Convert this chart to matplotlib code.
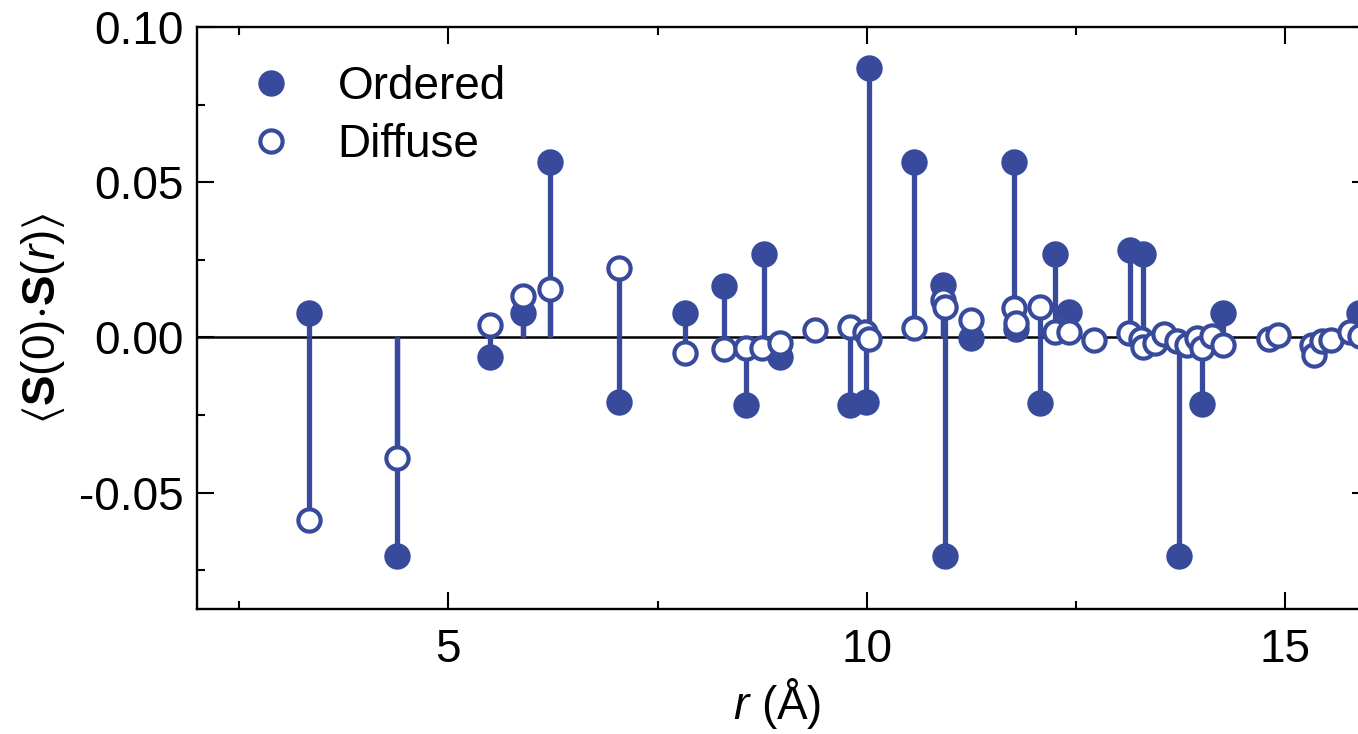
import matplotlib
matplotlib.use("Agg")
import matplotlib.pyplot as plt
from matplotlib.lines import Line2D
from matplotlib.ticker import MultipleLocator, FuncFormatter


# ══════════════════════════════════════════════════════════════
# Data: spin correlation <S(0).S(r)> against distance r (Å)
# ══════════════════════════════════════════════════════════════

# ordered (filled markers)
r_ordered = [3.33, 4.39, 5.50, 5.89, 6.21, 7.04, 7.83, 8.29, 8.56, 8.77,
             8.96, 9.80, 9.99, 10.02, 10.56, 10.91, 10.93, 11.24, 11.76, 11.78,
             12.07, 12.25, 12.41, 13.14, 13.30, 13.73, 14.00, 14.25, 15.88]
s_ordered = [0.0080, -0.0704, -0.0064, 0.0080, 0.0566, -0.0209, 0.0080, 0.0167, -0.0217, 0.0268,
             -0.0064, -0.0217, -0.0209, 0.0869, 0.0566, 0.0169, -0.0704, -0.0003, 0.0566, 0.0028,
             -0.0210, 0.0268, 0.0083, 0.0282, 0.0268, -0.0704, -0.0216, 0.0080, 0.0080]

# diffuse (open markers)
r_diffuse = [3.33, 4.39, 5.50, 5.89, 6.21, 7.04, 7.83, 8.29, 8.56, 8.75,
             8.96, 9.38, 9.80, 9.98, 10.02, 10.56, 10.91, 10.93, 11.24, 11.76,
             11.78, 12.07, 12.25, 12.41, 12.71, 13.13, 13.27, 13.30, 13.44, 13.55,
             13.70, 13.83, 13.95, 14.00, 14.12, 14.25, 14.81, 14.91, 15.32, 15.34,
             15.44, 15.54, 15.77, 15.89]
s_diffuse = [-0.0588, -0.0390, 0.0040, 0.0134, 0.0155, 0.0223, -0.0051, -0.0038, -0.0035, -0.0035,
             -0.0019, 0.0024, 0.0033, 0.0019, -0.0005, 0.0030, 0.0121, 0.0099, 0.0056, 0.0094,
             0.0046, 0.0099, 0.0019, 0.0019, -0.0007, 0.0015, -0.0005, -0.0030, -0.0019, 0.0010,
             -0.0013, -0.0024, -0.0003, -0.0035, 0.0003, -0.0025, -0.0006, 0.0008, -0.0024, -0.0056,
             -0.0012, -0.0007, 0.0019, 0.0006]

labels = ["Ordered", "Diffuse"]

# ══════════════════════════════════════════════════════════════
# Style
# ══════════════════════════════════════════════════════════════

BLUE      = "#374a9b"
FONT      = "Liberation Sans"
FONT_SIZE = 33
MS        = 16     # marker size (pt)
MEW       = 3.0    # marker edge width (pt)
STEM_LW   = 3.8

plt.rcParams["font.family"] = [FONT, "DejaVu Sans"]
plt.rcParams["mathtext.fontset"] = "custom"
plt.rcParams["mathtext.rm"] = FONT
plt.rcParams["mathtext.it"] = FONT + ":italic"
plt.rcParams["mathtext.bf"] = FONT + ":bold"
plt.rcParams["mathtext.fallback"] = "stixsans"
plt.rcParams["axes.unicode_minus"] = False

fig = plt.figure(figsize=(13.58, 7.34), dpi=100)
# right spine sits just past the edge of the picture, as in the reference
ax = fig.add_axes([0.1453, 0.1703, 0.8628, 0.7929])

# zero line
ax.axhline(0, color="black", lw=1.8, zorder=1)

# stems from zero to each value
ax.vlines(r_ordered, 0, s_ordered, color=BLUE, lw=STEM_LW, zorder=2)
ax.vlines(r_diffuse, 0, s_diffuse, color=BLUE, lw=STEM_LW, zorder=2)

# markers
ax.plot(r_ordered, s_ordered, "o", ls="none", ms=MS, mfc=BLUE, mec=BLUE,
        mew=MEW, zorder=3, clip_on=False)
ax.plot(r_diffuse, s_diffuse, "o", ls="none", ms=MS, mfc="white", mec=BLUE,
        mew=MEW, zorder=4, clip_on=False)

# ── axes ─────────────────────────────────────────────────────
ax.set_xlim(2, 16)
ax.set_ylim(-0.0875, 0.10)

ax.xaxis.set_major_locator(MultipleLocator(5))
ax.xaxis.set_minor_locator(MultipleLocator(2.5))
ax.yaxis.set_major_locator(MultipleLocator(0.05))
ax.yaxis.set_minor_locator(MultipleLocator(0.025))
ax.yaxis.set_major_formatter(FuncFormatter(lambda v, p: f"{v:.2f}"))

ax.tick_params(which="both", direction="in", top=True, right=True,
               width=1.5, labelsize=FONT_SIZE)
ax.tick_params(which="major", length=12)
ax.tick_params(which="minor", length=6)
ax.tick_params(axis="x", pad=14)
ax.tick_params(axis="y", pad=10)

for sp in ax.spines.values():
    sp.set_linewidth(1.7)

ax.set_xlabel(r"$r$ (Å)", fontsize=FONT_SIZE)
ax.set_ylabel(r"$\langle\mathbf{S}(0){\cdot}\mathbf{S}(r)\rangle$", fontsize=FONT_SIZE)
ax.xaxis.set_label_coords(0.495, -0.115)
ax.yaxis.set_label_coords(-0.111, 0.5)

# ── legend (markers only) ───────────────────────────────────
handles = [
    Line2D([], [], marker="o", ls="none", ms=MS, mfc=BLUE, mec=BLUE, mew=MEW),
    Line2D([], [], marker="o", ls="none", ms=MS, mfc="white", mec=BLUE, mew=MEW),
]
ax.legend(handles, labels, loc="upper left", bbox_to_anchor=(0.043, 0.935),
          frameon=False, fontsize=FONT_SIZE, borderpad=0, borderaxespad=0,
          handlelength=1.0, handletextpad=0.96, labelspacing=0.3)

fig.savefig("out.png", dpi=100)
plt.close(fig)
